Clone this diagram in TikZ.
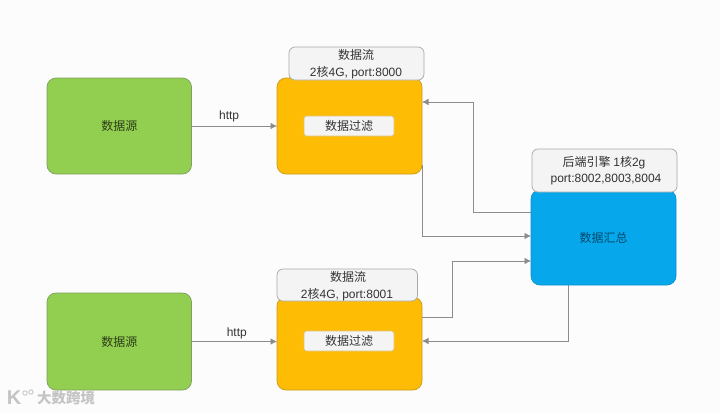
\documentclass[tikz,border=0pt]{standalone}
\usepackage{fontspec}
\setmainfont{Liberation Sans}
\newfontfamily\cjk{Noto Sans CJK SC}
\usetikzlibrary{arrows.meta}
\definecolor{gfill}{HTML}{92CE4F}
\definecolor{gedge}{HTML}{7F9F62}
\definecolor{ofill}{HTML}{FFBC05}
\definecolor{oedge}{HTML}{C79A20}
\definecolor{bfill}{HTML}{07A7EC}
\definecolor{bedge}{HTML}{0C93CF}
\definecolor{wfill}{HTML}{F4F4F4}
\definecolor{wedge}{HTML}{A8A8A8}
\definecolor{lnk}{HTML}{8C8C8C}
\definecolor{txt}{HTML}{333333}
\definecolor{wmk}{HTML}{C4C4C4}
\tikzset{
 x=1pt,y=-1pt,
 every node/.style={font=\cjk\fontsize{12}{14}\selectfont,text=txt,inner sep=0pt,outer sep=0pt,align=center},
 box/.style={draw,line width=.7pt,rounded corners=9pt,anchor=north west},
 srcbox/.style={box,fill=gfill,draw=gedge,minimum width=144.5pt,minimum height=96pt,text=gfill!30!black},
 filterbox/.style={box,fill=ofill,draw=oedge,minimum width=145pt},
 sumbox/.style={box,fill=bfill,draw=bedge,minimum width=145pt,minimum height=95pt,text=bfill!45!black},
 capbox/.style={box,fill=wfill,draw=wedge,rounded corners=6pt},
 innerbox/.style={box,fill=wfill,draw=oedge!60!white,rounded corners=2.5pt,minimum width=90pt,minimum height=20pt},
 link/.style={draw=lnk,line width=.7pt,-{Latex[length=6.5pt,width=6.5pt]}},
 lbl/.style={font=\fontsize{12}{14}\selectfont}
}
\begin{document}
\begin{tikzpicture}
\useasboundingbox (0,0) rectangle (720,413);
\fill[white!99!black] (0,0) rectangle (720,413);

\node[srcbox] (src1) at (47,78) {数据源};
\node[srcbox,minimum height=97pt] (src2) at (47,293) {数据源};
\node[filterbox,minimum height=96pt] (flt1) at (277,78) {};
\node[filterbox,minimum height=93pt] (flt2) at (277,297) {};
\node[capbox,minimum width=135pt,minimum height=33pt] (cap1) at (289,47) {};
\node (cap1a) at (356,55) {数据流};
\node[lbl] (cap1b) at (356,73) {2{\cjk 核}4G, port:8000};
\node[capbox,minimum width=140.5pt,minimum height=32pt] (cap2) at (277,269) {};
\node (cap2a) at (348,277) {数据流};
\node[lbl] (cap2b) at (347,295) {2{\cjk 核}4G, port:8001};
\node[innerbox] (in1) at (304,116) {数据过滤};
\node[innerbox] (in2) at (304,331) {数据过滤};

\node[sumbox] (sum) at (531,190) {数据汇总};
\node[capbox,minimum width=145pt,minimum height=43pt] (cap3) at (532,149) {};
\node (cap3a) at (604,163) {后端引擎 {\fontspec{Liberation Sans}1}核{\fontspec{Liberation Sans}2g}};
\node[lbl] (cap3b) at (606,180) {port:8002,8003,8004};

\draw[link] (src1.east) -- node[lbl,pos=.44,above=4pt] (h1) {http} (src1.east -| flt1.west);
\draw[link] (src2.east) -- node[lbl,pos=.53,above=3pt] (h2) {http} (src2.east -| flt2.west);

\draw[link] ([yshift=25.5pt]sum.west) -- +(-58,0) |- ([yshift=24pt]flt1.east);
\draw[link] ([yshift=9pt]flt1.south east) |- ([yshift=1.5pt]sum.west);
\draw[link] ([yshift=26.5pt]flt2.east) -| (452,261) -- ([yshift=-23.5pt]sum.west);
\draw[link] (sum.south west -| 568,0) |- (flt2.east |- 0,341);

\node[text=wmk,font=\cjk\bfseries\fontsize{14.5}{16}\selectfont] (wm) at (66,398) {大数跨境};
\node[text=wmk,font=\fontsize{20}{20}\selectfont\bfseries] (wmk) at (14,398) {K};
\draw[wmk,line width=.9pt] (25,393) circle (2.2pt) (31,392) circle (2.2pt);
\end{tikzpicture}
\end{document}
